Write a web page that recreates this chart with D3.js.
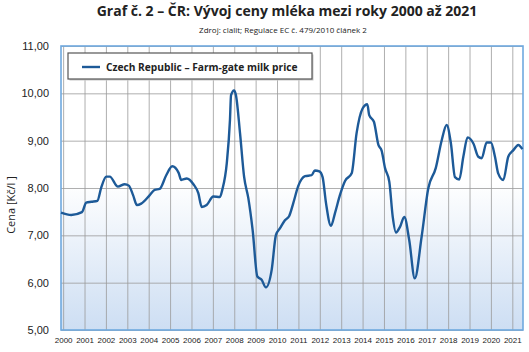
<!DOCTYPE html>
<html>
<head>
<meta charset="utf-8">
<script src="https://cdn.jsdelivr.net/npm/d3@7"></script>
<style>
  html, body { margin: 0; padding: 0; background: #fff; overflow: hidden; }
  svg { display: block; font-family: "Open Sans", "Noto Sans", sans-serif; }
</style>
</head>
<body>
<div id="chart"></div>
<script>
// values (decimal year, Kč/l)
var pointYears = [1999.90, 2000.38, 2000.88, 2001.08, 2001.32, 2001.60, 2001.78, 2002.02, 2002.18, 2002.56,
  2002.88, 2003.07, 2003.27, 2003.45, 2003.65, 2004.05, 2004.28, 2004.51, 2004.82, 2005.10,
  2005.40, 2005.52, 2005.78, 2006.09, 2006.32, 2006.48, 2006.71, 2007.02, 2007.33, 2007.44,
  2007.65, 2007.80, 2007.85, 2007.99, 2008.08, 2008.27, 2008.46, 2008.66, 2008.86, 2009.08,
  2009.28, 2009.48, 2009.75, 2009.95, 2010.14, 2010.37, 2010.57, 2010.76, 2010.99, 2011.31,
  2011.62, 2011.77, 2011.98, 2012.13, 2012.29, 2012.52, 2012.71, 2012.94, 2013.18, 2013.49,
  2013.72, 2014.00, 2014.22, 2014.31, 2014.53, 2014.74, 2014.89, 2015.05, 2015.25, 2015.41,
  2015.56, 2015.75, 2015.95, 2016.18, 2016.44, 2016.76, 2017.07, 2017.42, 2017.70, 2017.93,
  2018.13, 2018.32, 2018.52, 2018.71, 2018.91, 2019.18, 2019.41, 2019.57, 2019.80, 2020.00,
  2020.19, 2020.34, 2020.58, 2020.81, 2021.05, 2021.28, 2021.47];
var prices = [7.48, 7.43, 7.49, 7.69, 7.71, 7.73, 8.01, 8.24, 8.24, 8.03,
  8.08, 8.05, 7.85, 7.64, 7.67, 7.85, 7.96, 7.98, 8.27, 8.46,
  8.32, 8.17, 8.20, 8.08, 7.89, 7.60, 7.64, 7.82, 7.81, 7.96,
  8.52, 9.44, 9.96, 10.06, 9.96, 9.16, 8.24, 7.78, 7.11, 6.13,
  6.06, 5.90, 6.27, 7.01, 7.15, 7.32, 7.41, 7.68, 8.04, 8.25,
  8.27, 8.37, 8.35, 8.23, 7.68, 7.20, 7.47, 7.85, 8.15, 8.31,
  9.16, 9.68, 9.77, 9.54, 9.40, 8.91, 8.79, 8.42, 8.13, 7.39,
  7.06, 7.18, 7.39, 6.90, 6.09, 6.97, 7.99, 8.42, 9.01, 9.33,
  8.94, 8.23, 8.18, 8.66, 9.07, 8.94, 8.66, 8.63, 8.96, 8.96,
  8.66, 8.31, 8.17, 8.66, 8.80, 8.91, 8.82];
var yearTicks = d3.range(2000, 2022);
var priceTicks = [5, 6, 7, 8, 9, 10, 11];
var seriesName = "Czech Republic – Farm-gate milk price";
var titleText = "Graf č. 2 – ČR: Vývoj ceny mléka mezi roky 2000 až 2021";
var subtitleText = "Zdroj: clalit; Regulace EC č. 479/2010 článek 2";
var yAxisTitle = "Cena [Kč/l ]";

var width = 529, height = 352;
var margin = { left: 61, top: 46, right: 6, bottom: 22 };
var innerWidth = width - margin.left - margin.right;
var innerHeight = height - margin.top - margin.bottom;

var x = d3.scaleLinear().domain([1999.9, 2021.5]).range([0, innerWidth]);
var y = d3.scaleLinear().domain([5, 11]).range([innerHeight, 0]);

var svg = d3.select("#chart").append("svg")
  .attr("width", width)
  .attr("height", height);

var defs = svg.append("defs");
var grad = defs.append("linearGradient")
  .attr("id", "bgGrad").attr("x1", 0).attr("y1", 0).attr("x2", 0).attr("y2", 1);
grad.append("stop").attr("offset", "0.48").attr("stop-color", "#ffffff");
grad.append("stop").attr("offset", "1").attr("stop-color", "#cddef3");

// titles
svg.append("text")
  .attr("x", 287).attr("y", 16)
  .attr("text-anchor", "middle")
  .style("font-size", "14px").style("font-weight", "bold").style("fill", "#222")
  .text(titleText);
svg.append("text")
  .attr("x", 283).attr("y", 33)
  .attr("text-anchor", "middle")
  .style("font-size", "8px").style("fill", "#222")
  .text(subtitleText);

var g = svg.append("g")
  .attr("transform", "translate(" + margin.left + "," + margin.top + ")");

g.append("rect")
  .attr("width", innerWidth).attr("height", innerHeight)
  .attr("fill", "url(#bgGrad)");

// grid (no labels, drop the empty text nodes)
var xGrid = g.append("g")
  .attr("class", "xGrid")
  .attr("transform", "translate(0," + innerHeight + ")")
  .call(d3.axisBottom(x).tickValues(yearTicks).tickSize(-innerHeight).tickFormat(""));
xGrid.select(".domain").remove();
xGrid.selectAll("text").remove();
xGrid.selectAll("line").attr("stroke", "#9a9a9a").attr("stroke-width", 0.8);

var yGrid = g.append("g")
  .attr("class", "yGrid")
  .call(d3.axisLeft(y).tickValues(priceTicks).tickSize(-innerWidth).tickFormat(""));
yGrid.select(".domain").remove();
yGrid.selectAll("text").remove();
yGrid.selectAll("line").attr("stroke", "#9a9a9a").attr("stroke-width", 0.8);

// axes labels
var yAxis = g.append("g")
  .call(d3.axisLeft(y).tickValues(priceTicks).tickSize(0).tickPadding(12)
    .tickFormat(d => d3.format(".2f")(d).replace(".", ",")));
yAxis.select(".domain").remove();
yAxis.selectAll("line").remove();
yAxis.selectAll("text").style("font-size", "11px").style("fill", "#222");

var xAxis = g.append("g")
  .attr("transform", "translate(0," + innerHeight + ")")
  .call(d3.axisBottom(x).tickValues(yearTicks).tickSize(0).tickPadding(7).tickFormat(d3.format("d")));
xAxis.select(".domain").remove();
xAxis.selectAll("line").remove();
xAxis.selectAll("text").style("font-size", "8px").style("fill", "#222");

svg.append("text")
  .attr("transform", "translate(15,205) rotate(-90)")
  .attr("text-anchor", "middle")
  .style("font-size", "11px").style("fill", "#222")
  .text(yAxisTitle);

// plot border
g.append("rect")
  .attr("width", innerWidth).attr("height", innerHeight)
  .attr("fill", "none").attr("stroke", "#6fa9df").attr("stroke-width", 1.6);

// series line
var line = d3.line()
  .x((d, i) => x(pointYears[i]))
  .y(d => y(d))
  .curve(d3.curveMonotoneX);
g.append("path")
  .datum(prices)
  .attr("d", line)
  .attr("fill", "none")
  .attr("stroke", "#1d5a98")
  .attr("stroke-width", 2.4)
  .attr("stroke-linejoin", "round");

// legend
var legend = svg.append("g").attr("transform", "translate(68,53)");
legend.append("rect")
  .attr("x", 1.5).attr("y", 1.5).attr("width", 244).attr("height", 26)
  .attr("fill", "#c8c8c8");
legend.append("rect")
  .attr("width", 244).attr("height", 26)
  .attr("fill", "#fff").attr("stroke", "#555").attr("stroke-width", 1.2);
legend.append("line")
  .attr("x1", 14).attr("x2", 32).attr("y1", 14).attr("y2", 14)
  .attr("stroke", "#1d5a98").attr("stroke-width", 2.4);
legend.append("text")
  .attr("x", 38).attr("y", 17.5)
  .style("font-size", "10.2px").style("font-weight", "bold").style("fill", "#222")
  .text(seriesName);
</script>
</body>
</html>
